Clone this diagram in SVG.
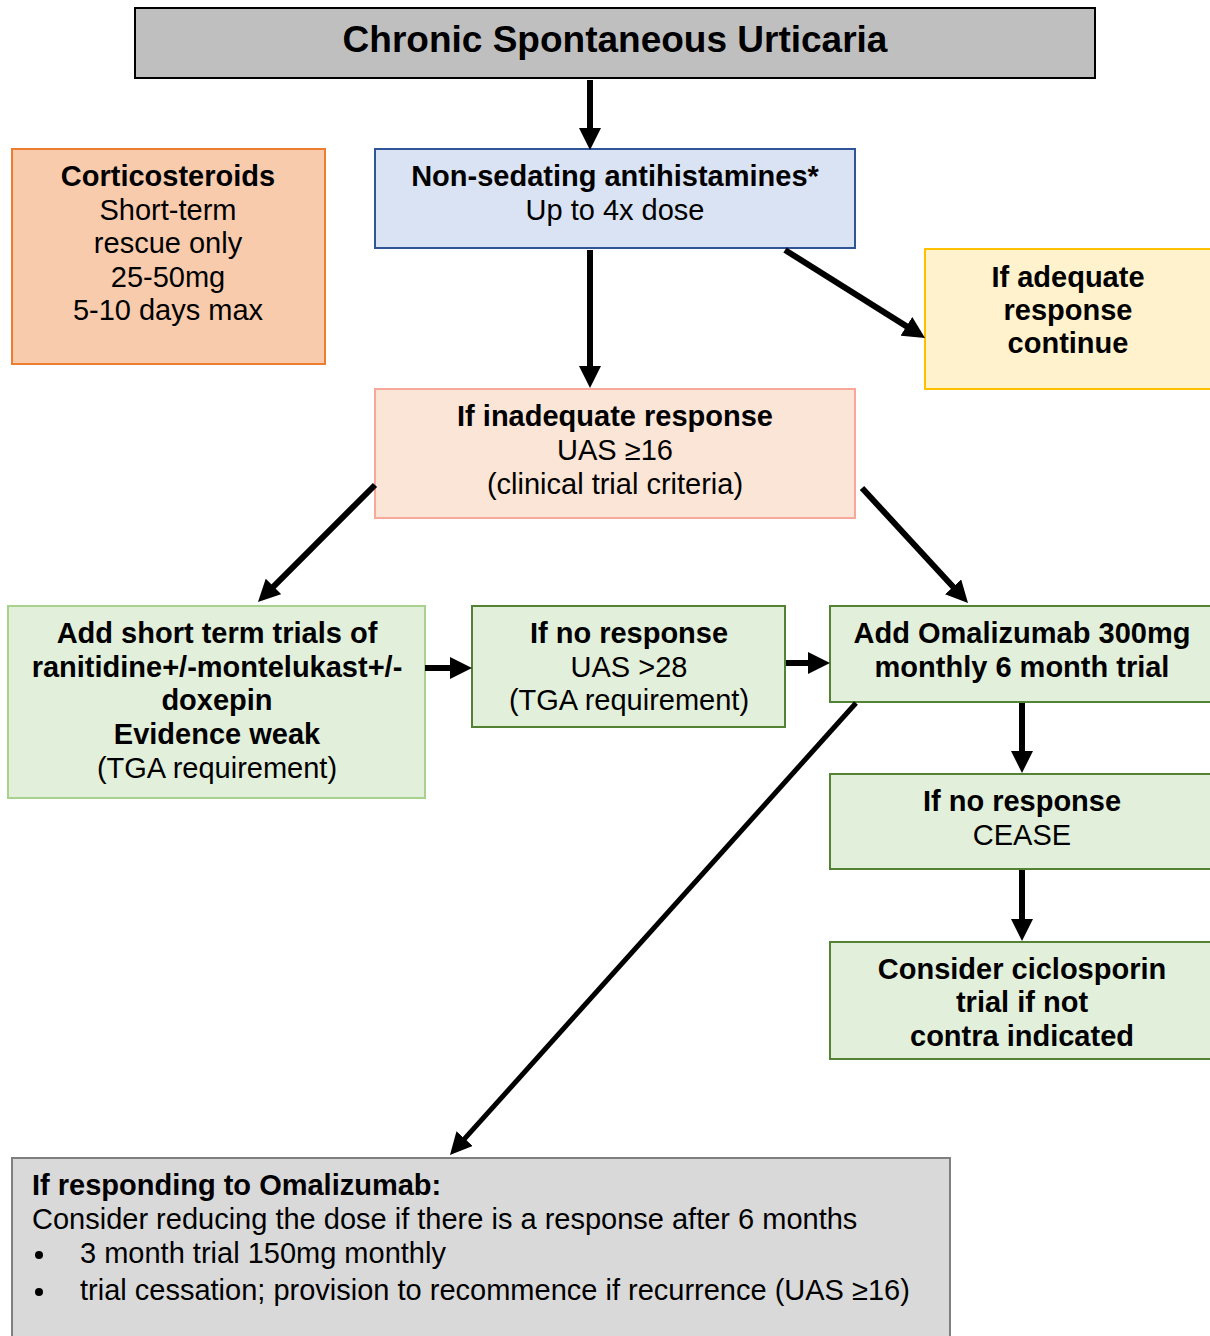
<svg xmlns="http://www.w3.org/2000/svg" width="1210" height="1336" viewBox="0 0 1210 1336">
<style>
text{font-family:"Liberation Sans",Arial,sans-serif;font-size:29px;fill:#000;text-anchor:middle}
.b{font-weight:bold}
.l{text-anchor:start}
.t{font-size:37px;font-weight:bold}
.c{stroke:#000;stroke-width:6;fill:none}
.g{fill:#e2efda;stroke:#548235;stroke-width:2}
</style>
<defs>
<marker id="ah" markerUnits="userSpaceOnUse" viewBox="0 0 22 22" markerWidth="22" markerHeight="22" refX="4" refY="11" orient="auto">
<path d="M0,0 L22,11 L0,22 z" fill="#000"/>
</marker>
</defs>
<rect width="1210" height="1336" fill="#fff"/>
<g id="title">
<rect x="135" y="8" width="960" height="70" fill="#bfbfbf" stroke="#000" stroke-width="2"/>
<text class="t" x="615" y="52">Chronic Spontaneous Urticaria</text>
</g>
<g id="corticosteroids">
<rect x="12" y="149" width="313" height="215" fill="#f8cbad" stroke="#ed7d31" stroke-width="2"/>
<text class="b" x="168" y="186">Corticosteroids</text>
<text x="168" y="220">Short-term</text>
<text x="168" y="253">rescue only</text>
<text x="168" y="287">25-50mg</text>
<text x="168" y="320">5-10 days max</text>
</g>
<g id="antihistamines">
<rect x="375" y="149" width="480" height="99" fill="#dae3f3" stroke="#2f5597" stroke-width="2"/>
<text class="b" x="615" y="186">Non-sedating antihistamines*</text>
<text x="615" y="220">Up to 4x dose</text>
</g>
<g id="adequate">
<rect x="925" y="249" width="290" height="140" fill="#fff2cc" stroke="#ffc000" stroke-width="2"/>
<text class="b" x="1068" y="287">If adequate</text>
<text class="b" x="1068" y="320">response</text>
<text class="b" x="1068" y="353">continue</text>
</g>
<g id="inadequate">
<rect x="375" y="389" width="480" height="129" fill="#fbe5d6" stroke="#f8a89a" stroke-width="2"/>
<text class="b" x="615" y="426">If inadequate response</text>
<text x="615" y="460">UAS ≥16</text>
<text x="615" y="494">(clinical trial criteria)</text>
</g>
<g id="shortterm">
<rect x="8" y="606" width="417" height="192" fill="#e2efda" stroke="#a9d18e" stroke-width="2"/>
<text class="b" x="217" y="643">Add short term trials of</text>
<text class="b" x="217" y="677">ranitidine+/-montelukast+/-</text>
<text class="b" x="217" y="710">doxepin</text>
<text class="b" x="217" y="744">Evidence weak</text>
<text x="217" y="778">(TGA requirement)</text>
</g>
<g id="noresponse1">
<rect class="g" x="472" y="606" width="313" height="121"/>
<text class="b" x="629" y="643">If no response</text>
<text x="629" y="677">UAS &gt;28</text>
<text x="629" y="710">(TGA requirement)</text>
</g>
<g id="omalizumab">
<rect class="g" x="830" y="606" width="385" height="96"/>
<text class="b" x="1022" y="643">Add Omalizumab 300mg</text>
<text class="b" x="1022" y="677">monthly 6 month trial</text>
</g>
<g id="cease">
<rect class="g" x="830" y="774" width="385" height="95"/>
<text class="b" x="1022" y="811">If no response</text>
<text x="1022" y="845">CEASE</text>
</g>
<g id="ciclosporin">
<rect class="g" x="830" y="942" width="385" height="117"/>
<text class="b" x="1022" y="979">Consider ciclosporin</text>
<text class="b" x="1022" y="1012">trial if not</text>
<text class="b" x="1022" y="1046">contra indicated</text>
</g>
<g id="responding">
<rect x="12" y="1158" width="938" height="190" fill="#d9d9d9" stroke="#7f7f7f" stroke-width="2"/>
<text class="b l" x="32" y="1195">If responding to Omalizumab:</text>
<text class="l" x="32" y="1229">Consider reducing the dose if there is a response after 6 months</text>
<circle cx="39" cy="1255" r="4" fill="#000"/>
<text class="l" x="80" y="1263">3 month trial 150mg monthly</text>
<circle cx="39" cy="1292" r="4" fill="#000"/>
<text class="l" x="80" y="1300">trial cessation; provision to recommence if recurrence (UAS ≥16)</text>
</g>
<g id="connectors">
<line class="c" x1="590" y1="80" x2="590" y2="132" marker-end="url(#ah)"/>
<line class="c" x1="590" y1="250" x2="590" y2="370" marker-end="url(#ah)"/>
<line class="c" x1="785" y1="250" x2="909.8" y2="328.4" marker-end="url(#ah)"/>
<line class="c" x1="375" y1="485" x2="270.7" y2="589.3" marker-end="url(#ah)"/>
<line class="c" x1="862" y1="488" x2="955.8" y2="589.8" marker-end="url(#ah)"/>
<line class="c" x1="425" y1="668" x2="454" y2="668" marker-end="url(#ah)"/>
<line class="c" x1="786" y1="663" x2="812" y2="663" marker-end="url(#ah)"/>
<line class="c" x1="1022" y1="703" x2="1022" y2="755" marker-end="url(#ah)"/>
<line class="c" x1="1022" y1="870" x2="1022" y2="923" marker-end="url(#ah)"/>
<line class="c" style="stroke-width:5" x1="856" y1="703" x2="462" y2="1141.6" marker-end="url(#ah)"/>
</g>
</svg>
